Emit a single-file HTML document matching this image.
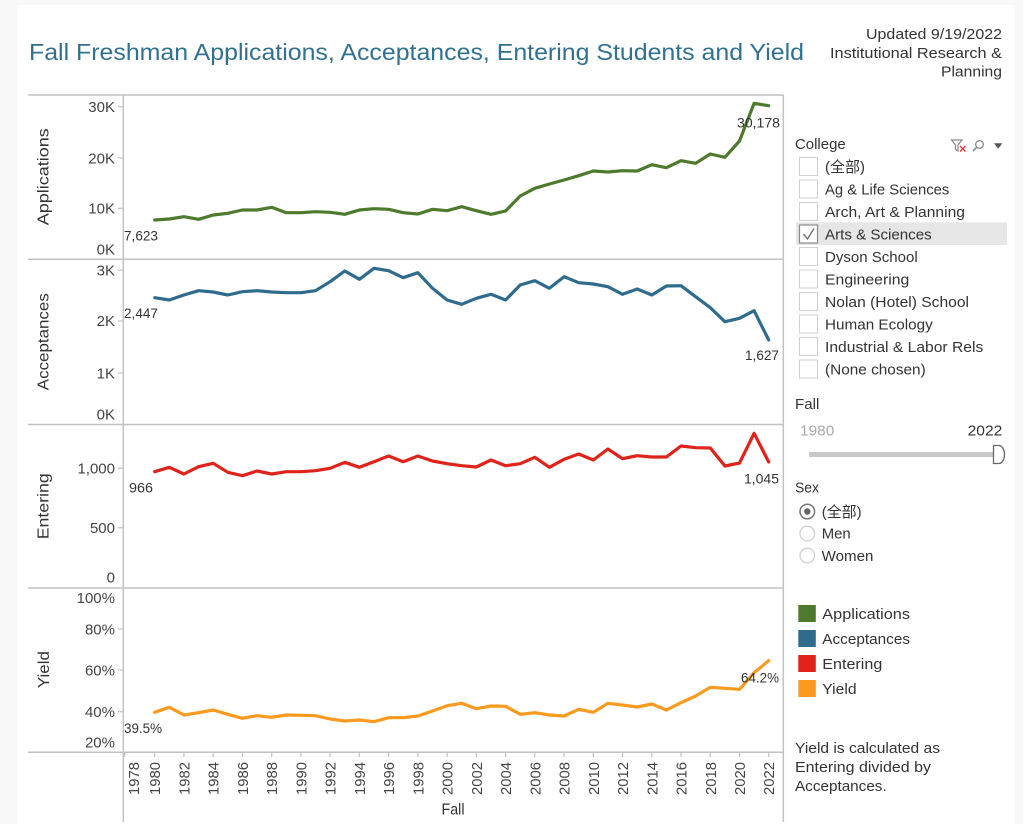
<!DOCTYPE html>
<html><head><meta charset="utf-8"><style>
html,body{margin:0;padding:0;background:#f8f8f8;}
svg{display:block;font-family:"Liberation Sans","Noto Sans CJK SC",sans-serif;}
</style></head><body>
<svg width="1023" height="824" viewBox="0 0 1023 824" xmlns="http://www.w3.org/2000/svg">
<rect x="0" y="0" width="1023" height="824" fill="#f8f8f8"/>
<rect x="17" y="5" width="998" height="819" fill="#ffffff"/>

<!-- Title -->
<text x="29" y="60" font-size="23" fill="#31708f" textLength="775" lengthAdjust="spacingAndGlyphs">Fall Freshman Applications, Acceptances, Entering Students and Yield</text>
<g font-size="15" fill="#333" text-anchor="end">
<text x="1002" y="39" textLength="136" lengthAdjust="spacingAndGlyphs">Updated 9/19/2022</text>
<text x="1002" y="58" textLength="172" lengthAdjust="spacingAndGlyphs">Institutional Research &amp;</text>
<text x="1002" y="76.5" textLength="61" lengthAdjust="spacingAndGlyphs">Planning</text>
</g>

<!-- Frame lines -->
<g stroke="#c2c2c2" stroke-width="1.5" fill="none">
<line x1="28" y1="95" x2="783.5" y2="95"/>
<line x1="28" y1="259.3" x2="783.5" y2="259.3"/>
<line x1="28" y1="424.5" x2="783.5" y2="424.5"/>
<line x1="28" y1="588" x2="783.5" y2="588"/>
<line x1="28" y1="752.3" x2="783.5" y2="752.3"/>
<line x1="123.3" y1="95" x2="123.3" y2="822"/>
<line x1="783.3" y1="95" x2="783.3" y2="822"/>
</g>

<!-- Y tick marks -->
<g stroke="#c2c2c2" stroke-width="1.2">
<line x1="118" y1="106.7" x2="123" y2="106.7"/>
<line x1="118" y1="157.9" x2="123" y2="157.9"/>
<line x1="118" y1="208.3" x2="123" y2="208.3"/>
<line x1="118" y1="270" x2="123" y2="270"/>
<line x1="118" y1="321" x2="123" y2="321"/>
<line x1="118" y1="373" x2="123" y2="373"/>
<line x1="118" y1="468.3" x2="123" y2="468.3"/>
<line x1="118" y1="527.7" x2="123" y2="527.7"/>
<line x1="118" y1="629" x2="123" y2="629"/>
<line x1="118" y1="670" x2="123" y2="670"/>
<line x1="118" y1="711.7" x2="123" y2="711.7"/>
</g>

<!-- Y tick labels -->
<g font-size="15" fill="#444" text-anchor="end">
<text x="115" y="112">30K</text>
<text x="115" y="163.5">20K</text>
<text x="115" y="213.5">10K</text>
<text x="115" y="254.5">0K</text>
<text x="115" y="275.3">3K</text>
<text x="115" y="326">2K</text>
<text x="115" y="378.5">1K</text>
<text x="115" y="419.5">0K</text>
<text x="115" y="473.5">1,000</text>
<text x="115" y="533">500</text>
<text x="115" y="582.5">0</text>
<text x="115" y="603">100%</text>
<text x="115" y="634.3">80%</text>
<text x="115" y="675.3">60%</text>
<text x="115" y="717">40%</text>
<text x="115" y="747.5">20%</text>
</g>

<!-- Axis titles -->
<g font-size="15.5" fill="#333" text-anchor="middle">
<text transform="translate(48.5,176.7) rotate(-90)" textLength="97" lengthAdjust="spacingAndGlyphs">Applications</text>
<text transform="translate(48.5,341.7) rotate(-90)" textLength="97" lengthAdjust="spacingAndGlyphs">Acceptances</text>
<text transform="translate(48.5,506.3) rotate(-90)" textLength="66" lengthAdjust="spacingAndGlyphs">Entering</text>
<text transform="translate(49,669.6) rotate(-90)" textLength="37" lengthAdjust="spacingAndGlyphs">Yield</text>
<text x="453" y="814.5" textLength="23" lengthAdjust="spacingAndGlyphs">Fall</text>
</g>

<!-- X ticks -->
<g stroke="#c2c2c2" stroke-width="1.2">
<line x1="124.3" y1="752" x2="124.3" y2="757" stroke-width="2"/>
<line x1="154.7" y1="752" x2="154.7" y2="757"/>
<line x1="183.9" y1="752" x2="183.9" y2="757"/>
<line x1="213.2" y1="752" x2="213.2" y2="757"/>
<line x1="242.4" y1="752" x2="242.4" y2="757"/>
<line x1="271.7" y1="752" x2="271.7" y2="757"/>
<line x1="300.9" y1="752" x2="300.9" y2="757"/>
<line x1="330.1" y1="752" x2="330.1" y2="757"/>
<line x1="359.4" y1="752" x2="359.4" y2="757"/>
<line x1="388.6" y1="752" x2="388.6" y2="757"/>
<line x1="417.9" y1="752" x2="417.9" y2="757"/>
<line x1="447.1" y1="752" x2="447.1" y2="757"/>
<line x1="476.3" y1="752" x2="476.3" y2="757"/>
<line x1="505.6" y1="752" x2="505.6" y2="757"/>
<line x1="534.8" y1="752" x2="534.8" y2="757"/>
<line x1="564.1" y1="752" x2="564.1" y2="757"/>
<line x1="593.3" y1="752" x2="593.3" y2="757"/>
<line x1="622.5" y1="752" x2="622.5" y2="757"/>
<line x1="651.8" y1="752" x2="651.8" y2="757"/>
<line x1="681.0" y1="752" x2="681.0" y2="757"/>
<line x1="710.3" y1="752" x2="710.3" y2="757"/>
<line x1="739.5" y1="752" x2="739.5" y2="757"/>
<line x1="768.7" y1="752" x2="768.7" y2="757"/>
</g>

<!-- X labels -->
<g font-size="15" fill="#444" text-anchor="end">
<text transform="translate(138.8,762) rotate(-90)" textLength="33" lengthAdjust="spacingAndGlyphs">1978</text>
<text transform="translate(160.2,762) rotate(-90)" textLength="33" lengthAdjust="spacingAndGlyphs">1980</text>
<text transform="translate(189.4,762) rotate(-90)" textLength="33" lengthAdjust="spacingAndGlyphs">1982</text>
<text transform="translate(218.7,762) rotate(-90)" textLength="33" lengthAdjust="spacingAndGlyphs">1984</text>
<text transform="translate(247.9,762) rotate(-90)" textLength="33" lengthAdjust="spacingAndGlyphs">1986</text>
<text transform="translate(277.2,762) rotate(-90)" textLength="33" lengthAdjust="spacingAndGlyphs">1988</text>
<text transform="translate(306.4,762) rotate(-90)" textLength="33" lengthAdjust="spacingAndGlyphs">1990</text>
<text transform="translate(335.6,762) rotate(-90)" textLength="33" lengthAdjust="spacingAndGlyphs">1992</text>
<text transform="translate(364.9,762) rotate(-90)" textLength="33" lengthAdjust="spacingAndGlyphs">1994</text>
<text transform="translate(394.1,762) rotate(-90)" textLength="33" lengthAdjust="spacingAndGlyphs">1996</text>
<text transform="translate(423.4,762) rotate(-90)" textLength="33" lengthAdjust="spacingAndGlyphs">1998</text>
<text transform="translate(452.6,762) rotate(-90)" textLength="33" lengthAdjust="spacingAndGlyphs">2000</text>
<text transform="translate(481.8,762) rotate(-90)" textLength="33" lengthAdjust="spacingAndGlyphs">2002</text>
<text transform="translate(511.1,762) rotate(-90)" textLength="33" lengthAdjust="spacingAndGlyphs">2004</text>
<text transform="translate(540.3,762) rotate(-90)" textLength="33" lengthAdjust="spacingAndGlyphs">2006</text>
<text transform="translate(569.6,762) rotate(-90)" textLength="33" lengthAdjust="spacingAndGlyphs">2008</text>
<text transform="translate(598.8,762) rotate(-90)" textLength="33" lengthAdjust="spacingAndGlyphs">2010</text>
<text transform="translate(628.0,762) rotate(-90)" textLength="33" lengthAdjust="spacingAndGlyphs">2012</text>
<text transform="translate(657.3,762) rotate(-90)" textLength="33" lengthAdjust="spacingAndGlyphs">2014</text>
<text transform="translate(686.5,762) rotate(-90)" textLength="33" lengthAdjust="spacingAndGlyphs">2016</text>
<text transform="translate(715.8,762) rotate(-90)" textLength="33" lengthAdjust="spacingAndGlyphs">2018</text>
<text transform="translate(745.0,762) rotate(-90)" textLength="33" lengthAdjust="spacingAndGlyphs">2020</text>
<text transform="translate(774.2,762) rotate(-90)" textLength="33" lengthAdjust="spacingAndGlyphs">2022</text>
</g>

<!-- Series -->
<g fill="none" stroke-width="3.2" stroke-linejoin="round" stroke-linecap="round">
<polyline stroke="#4e7a2d" points="154.7,220 169.3,219 183.9,216.7 198.6,219.3 213.2,215 227.8,213.3 242.4,210 257.0,210 271.7,207.3 286.3,212.7 300.9,212.7 315.5,211.7 330.1,212.3 344.8,214.3 359.4,210 374.0,208.7 388.6,209.3 403.2,212.7 417.9,214 432.5,209.3 447.1,210.7 461.7,206.7 476.3,210.7 491.0,214.3 505.6,211 520.2,196 534.8,188.3 549.4,184 564.1,180 578.7,175.7 593.3,171 607.9,172 622.5,170.7 637.2,171 651.8,164.7 666.4,167.7 681.0,160.7 695.6,163.3 710.3,154 724.9,157.3 739.5,141 754.1,103.3 768.7,105.7"/>
<polyline stroke="#2e6b8c" points="154.7,297.7 169.3,300 183.9,295 198.6,290.7 213.2,292 227.8,295 242.4,291.7 257.0,290.7 271.7,292 286.3,292.7 300.9,292.7 315.5,290.7 330.1,281.7 344.8,271 359.4,279.3 374.0,268.3 388.6,270.7 403.2,277.7 417.9,272.7 432.5,288.3 447.1,300 461.7,304.3 476.3,298.3 491.0,294.3 505.6,300 520.2,285 534.8,280.7 549.4,288.3 564.1,276.7 578.7,282.7 593.3,284 607.9,286.7 622.5,294.3 637.2,289 651.8,295 666.4,286 681.0,285.7 695.6,296.7 710.3,307.7 724.9,321.7 739.5,318.3 754.1,310.7 768.7,340"/>
<polyline stroke="#e0231a" points="154.7,471.7 169.3,467.3 183.9,474 198.6,466.7 213.2,463.3 227.8,472.3 242.4,475.7 257.0,471 271.7,474 286.3,471.7 300.9,471.7 315.5,470.7 330.1,468.3 344.8,462.3 359.4,467.3 374.0,461.7 388.6,456 403.2,461.7 417.9,456 432.5,461 447.1,463.7 461.7,465.7 476.3,467 491.0,460 505.6,465.7 520.2,463.7 534.8,457.3 549.4,467.3 564.1,459.3 578.7,454 593.3,460 607.9,449 622.5,458.7 637.2,455.7 651.8,457 666.4,457 681.0,446 695.6,447.7 710.3,448 724.9,466 739.5,463 754.1,433.3 768.7,462"/>
<polyline stroke="#fb9a1e" points="154.7,712.3 169.3,707.3 183.9,715 198.6,712.7 213.2,710 227.8,714.3 242.4,718.3 257.0,715.7 271.7,717.3 286.3,715 300.9,715.3 315.5,715.7 330.1,719 344.8,721 359.4,720 374.0,721.7 388.6,717.7 403.2,717.7 417.9,716 432.5,711 447.1,705.7 461.7,703.3 476.3,708.7 491.0,706 505.6,706.3 520.2,714.3 534.8,712.7 549.4,715 564.1,716 578.7,709.3 593.3,712.3 607.9,703.3 622.5,705 637.2,707 651.8,704 666.4,710 681.0,702.7 695.6,696 710.3,687.3 724.9,688.3 739.5,689.3 754.1,672.7 768.7,660.7"/>
</g>

<!-- Data labels -->
<g font-size="13.5" fill="#333">
<text x="124" y="240.5" textLength="34" lengthAdjust="spacingAndGlyphs">7,623</text>
<text x="737" y="127.5" textLength="43" lengthAdjust="spacingAndGlyphs">30,178</text>
<text x="124" y="318" textLength="34" lengthAdjust="spacingAndGlyphs">2,447</text>
<text x="745" y="360" textLength="34" lengthAdjust="spacingAndGlyphs">1,627</text>
<text x="129" y="492.5" textLength="24" lengthAdjust="spacingAndGlyphs">966</text>
<text x="744" y="483.5" textLength="35" lengthAdjust="spacingAndGlyphs">1,045</text>
<text x="124" y="733" textLength="38" lengthAdjust="spacingAndGlyphs">39.5%</text>
<text x="741" y="682.5" textLength="38" lengthAdjust="spacingAndGlyphs">64.2%</text>
</g>

<!-- Right panel: College filter -->
<text x="795" y="149" font-size="15" fill="#333" textLength="50.7" lengthAdjust="spacingAndGlyphs">College</text>
<!-- icons -->
<g>
<path d="M951.5,140 L962,140 L958,145 L958,151 L955.5,149.5 L955.5,145 Z" fill="none" stroke="#888" stroke-width="1.2"/>
<path d="M960,146 L965.5,151.5 M965.5,146 L960,151.5" stroke="#e03a3a" stroke-width="1.4"/>
<circle cx="979.5" cy="144.5" r="3.8" fill="none" stroke="#888" stroke-width="1.3"/>
<line x1="976.8" y1="147.2" x2="973" y2="151" stroke="#888" stroke-width="1.6"/>
<path d="M994,143.3 L1002.3,143.3 L998.2,148.7 Z" fill="#555"/>
</g>
<rect x="796" y="222.3" width="211" height="22.7" fill="#e6e6e6"/>
<g fill="#fff" stroke="#d0d0d0" stroke-width="1">
<rect x="799.5" y="157.5" width="18" height="18"/>
<rect x="799.5" y="180" width="18" height="18"/>
<rect x="799.5" y="202.5" width="18" height="18"/>
<rect x="799.5" y="247.5" width="18" height="18"/>
<rect x="799.5" y="270" width="18" height="18"/>
<rect x="799.5" y="292.5" width="18" height="18"/>
<rect x="799.5" y="315" width="18" height="18"/>
<rect x="799.5" y="337.5" width="18" height="18"/>
<rect x="799.5" y="360" width="18" height="18"/>
</g>
<rect x="799.5" y="225" width="18" height="18" fill="#fff" stroke="#8a8a8a" stroke-width="1.2"/>
<path d="M803.5,234 L807.5,239 L814,228.5" fill="none" stroke="#777" stroke-width="1.5"/>
<g font-size="15" fill="#333">
<text x="825" y="172" textLength="40" lengthAdjust="spacingAndGlyphs">(全部)</text>
<text x="825" y="194.5" textLength="124.3" lengthAdjust="spacingAndGlyphs">Ag &amp; Life Sciences</text>
<text x="825" y="217" textLength="140" lengthAdjust="spacingAndGlyphs">Arch, Art &amp; Planning</text>
<text x="825" y="239.5" textLength="106.7" lengthAdjust="spacingAndGlyphs">Arts &amp; Sciences</text>
<text x="825" y="262" textLength="92.7" lengthAdjust="spacingAndGlyphs">Dyson School</text>
<text x="825" y="284.5" textLength="84.3" lengthAdjust="spacingAndGlyphs">Engineering</text>
<text x="825" y="307" textLength="144" lengthAdjust="spacingAndGlyphs">Nolan (Hotel) School</text>
<text x="825" y="329.5" textLength="107.7" lengthAdjust="spacingAndGlyphs">Human Ecology</text>
<text x="825" y="352" textLength="158.3" lengthAdjust="spacingAndGlyphs">Industrial &amp; Labor Rels</text>
<text x="825" y="374.5" textLength="100.7" lengthAdjust="spacingAndGlyphs">(None chosen)</text>
</g>

<!-- Fall slider -->
<text x="795" y="409" font-size="15" fill="#333" textLength="24.3" lengthAdjust="spacingAndGlyphs">Fall</text>
<text x="800" y="435.3" font-size="15" fill="#aaa" textLength="34.3" lengthAdjust="spacingAndGlyphs">1980</text>
<text x="1002.3" y="435.3" font-size="15" fill="#333" text-anchor="end" textLength="34.7" lengthAdjust="spacingAndGlyphs">2022</text>
<rect x="809" y="452" width="187" height="5" fill="#c9c9c9"/>
<path d="M993.5,445.5 L999,445.5 A5.5,9 0 0 1 999,463.5 L993.5,463.5 Z" fill="#fff" stroke="#666" stroke-width="1.3"/>

<!-- Sex -->
<text x="795" y="492.5" font-size="15" fill="#333" textLength="24" lengthAdjust="spacingAndGlyphs">Sex</text>
<circle cx="807.3" cy="511.5" r="7.3" fill="#fff" stroke="#777" stroke-width="1.5"/>
<circle cx="807.3" cy="511.5" r="3.2" fill="#666"/>
<circle cx="807.3" cy="533.5" r="7.3" fill="#fff" stroke="#cfcfcf" stroke-width="1.3"/>
<circle cx="807.3" cy="555.5" r="7.3" fill="#fff" stroke="#cfcfcf" stroke-width="1.3"/>
<g font-size="15" fill="#333">
<text x="821.7" y="517" textLength="40" lengthAdjust="spacingAndGlyphs">(全部)</text>
<text x="821.7" y="538.5" textLength="29" lengthAdjust="spacingAndGlyphs">Men</text>
<text x="821.7" y="561" textLength="51.7" lengthAdjust="spacingAndGlyphs">Women</text>
</g>

<!-- Legend -->
<rect x="798.3" y="605" width="17.5" height="17" fill="#4e7a2d"/>
<rect x="798.3" y="630" width="17.5" height="17" fill="#2e6b8c"/>
<rect x="798.3" y="655" width="17.5" height="17" fill="#e0231a"/>
<rect x="798.3" y="680" width="17.5" height="17" fill="#fb9a1e"/>
<g font-size="15" fill="#333">
<text x="822.3" y="619" textLength="87.7" lengthAdjust="spacingAndGlyphs">Applications</text>
<text x="822.3" y="644" textLength="87.7" lengthAdjust="spacingAndGlyphs">Acceptances</text>
<text x="822.3" y="669" textLength="60" lengthAdjust="spacingAndGlyphs">Entering</text>
<text x="822.3" y="694" textLength="34.3" lengthAdjust="spacingAndGlyphs">Yield</text>
<text x="795" y="753" textLength="145" lengthAdjust="spacingAndGlyphs">Yield is calculated as</text>
<text x="795" y="772" textLength="136" lengthAdjust="spacingAndGlyphs">Entering divided by</text>
<text x="795" y="791" textLength="91.7" lengthAdjust="spacingAndGlyphs">Acceptances.</text>
</g>
</svg>
</body></html>
